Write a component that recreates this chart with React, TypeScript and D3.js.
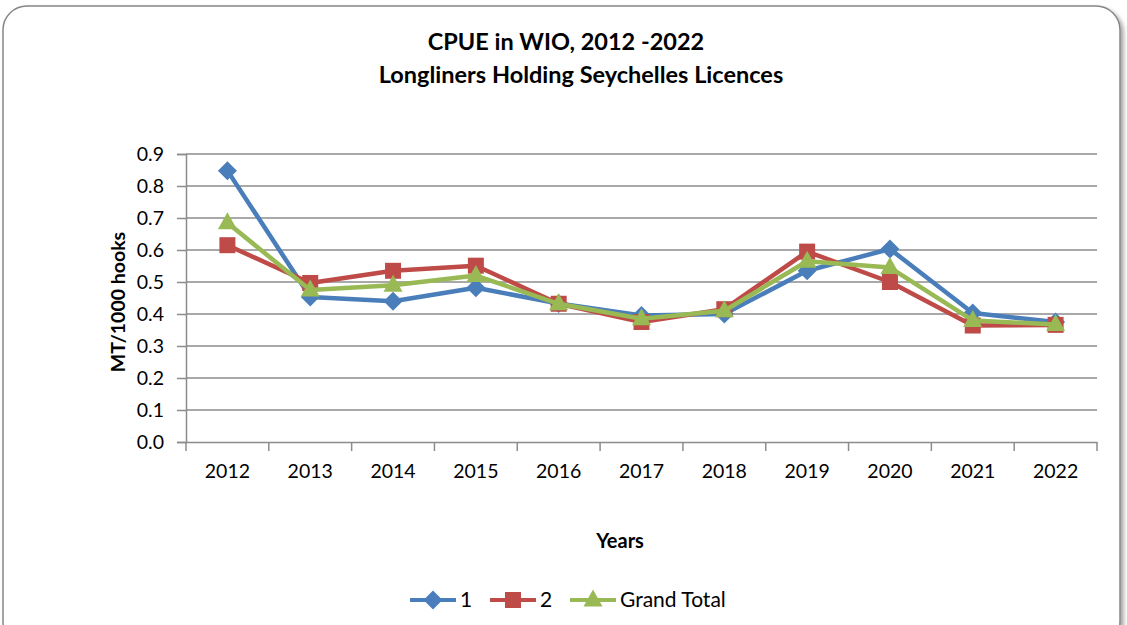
import { useEffect, useRef } from 'react';
import * as d3 from 'd3';

const years = ['2012', '2013', '2014', '2015', '2016', '2017', '2018', '2019', '2020', '2021', '2022'];
const series1 = [0.848, 0.453, 0.44, 0.482, 0.433, 0.395, 0.4, 0.535, 0.603, 0.403, 0.375];
const series2 = [0.615, 0.497, 0.535, 0.551, 0.432, 0.375, 0.415, 0.595, 0.5, 0.364, 0.366];
const grandTotal = [0.685, 0.475, 0.49, 0.52, 0.432, 0.385, 0.41, 0.565, 0.545, 0.38, 0.367];
const yTicks = [0, 0.1, 0.2, 0.3, 0.4, 0.5, 0.6, 0.7, 0.8, 0.9];

const seriesList = [
    { name: '1', values: series1, color: '#4A7EBB', marker: 'diamond' },
    { name: '2', values: series2, color: '#BE4B48', marker: 'square' },
    { name: 'Grand Total', values: grandTotal, color: '#98B954', marker: 'triangle' },
];

const FONT = 'Lato, "Open Sans", sans-serif';

const App = () => {
    const svgRef = useRef<SVGSVGElement>(null);

    useEffect(() => {
        const W = 1127, H = 625;
        const svg = d3.select(svgRef.current);
        svg.selectAll('*').remove();
        svg.attr('width', W).attr('height', H);

        // sombra + marco redondeado
        const defs = svg.append('defs');
        const f = defs.append('filter').attr('id', 'shadow').attr('x', '-5%').attr('y', '-5%').attr('width', '110%').attr('height', '110%');
        f.append('feDropShadow').attr('dx', 3).attr('dy', 3).attr('stdDeviation', 2).attr('flood-color', '#000').attr('flood-opacity', 0.35);

        svg.append('rect')
            .attr('x', 3).attr('y', 6).attr('width', 1117).attr('height', 640)
            .attr('rx', 24).attr('ry', 24)
            .attr('fill', '#fff').attr('stroke', '#868686').attr('stroke-width', 1.5)
            .attr('filter', 'url(#shadow)');

        const left = 186, right = 1097, top = 154, bottom = 442;

        const x = d3.scaleBand().domain(years).range([left, right]);
        const y = d3.scaleLinear().domain([0, 0.9]).range([bottom, top]);
        const cx = (d: string) => (x(d) as number) + x.bandwidth() / 2;

        // líneas de cuadrícula
        svg.append('g').selectAll('line').data(yTicks.slice(1)).enter().append('line')
            .attr('x1', left).attr('x2', right)
            .attr('y1', d => y(d)).attr('y2', d => y(d))
            .attr('stroke', '#8c8c8c').attr('stroke-width', 1.5);

        // eje y
        const yAxis = svg.append('g').attr('transform', `translate(${left},0)`)
            .call(d3.axisLeft(y).tickValues(yTicks).tickFormat(d3.format('.1f')).tickSize(9).tickPadding(12));
        yAxis.select('.domain').attr('stroke', '#8c8c8c').attr('stroke-width', 1.5);
        yAxis.selectAll('.tick line').attr('stroke', '#8c8c8c').attr('stroke-width', 1.5).attr('x2', -9);
        yAxis.selectAll('text').attr('x', -22).style('font-family', FONT).style('font-size', '19.5px').attr('fill', '#000');

        // eje x
        const xAxis = svg.append('g').attr('transform', `translate(0,${bottom})`)
            .call(d3.axisBottom(x).tickSize(0).tickPadding(22));
        xAxis.select('.domain').attr('stroke', '#8c8c8c').attr('stroke-width', 1.5);
        xAxis.selectAll('text').style('font-family', FONT).style('font-size', '19.5px').attr('fill', '#000');
        const bounds = years.map(d => x(d) as number).concat([right]);
        xAxis.selectAll('.sep').data(bounds).enter().append('line')
            .attr('x1', d => d).attr('x2', d => d).attr('y1', 0).attr('y2', 9)
            .attr('stroke', '#8c8c8c').attr('stroke-width', 1.5);

        // marcadores
        const drawMarker = (g: any, type: string, color: string, px: number, py: number) => {
            if (type === 'diamond') {
                g.append('path').attr('d', `M${px},${py - 9.5}L${px + 9.5},${py}L${px},${py + 9.5}L${px - 9.5},${py}Z`).attr('fill', color);
            } else if (type === 'square') {
                g.append('rect').attr('x', px - 8).attr('y', py - 8).attr('width', 16).attr('height', 16).attr('fill', color);
            } else {
                g.append('path').attr('d', `M${px},${py - 10.5}L${px + 9.5},${py + 6.5}L${px - 9.5},${py + 6.5}Z`).attr('fill', color);
            }
        };

        const line = d3.line<number>().x((_, i) => cx(years[i])).y(d => y(d));
        seriesList.forEach(s => {
            const g = svg.append('g');
            g.append('path').attr('d', line(s.values)).attr('fill', 'none')
                .attr('stroke', s.color).attr('stroke-width', 4.5).attr('stroke-linejoin', 'round');
            s.values.forEach((v, i) => drawMarker(g, s.marker, s.color, cx(years[i]), y(v)));
        });

        // títulos
        svg.append('text').attr('x', 566).attr('y', 50).attr('text-anchor', 'middle')
            .style('font-family', FONT).style('font-size', '23.5px').style('font-weight', 'bold')
            .text('CPUE in WIO, 2012 -2022');
        svg.append('text').attr('x', 581).attr('y', 83).attr('text-anchor', 'middle')
            .style('font-family', FONT).style('font-size', '23.5px').style('font-weight', 'bold')
            .text('Longliners Holding Seychelles Licences');

        svg.append('text').attr('transform', `translate(125,${(top + bottom) / 2 + 4}) rotate(-90)`)
            .attr('text-anchor', 'middle')
            .style('font-family', FONT).style('font-size', '19.5px').style('font-weight', 'bold')
            .text('MT/1000 hooks');

        svg.append('text').attr('x', 620).attr('y', 548).attr('text-anchor', 'middle')
            .style('font-family', FONT).style('font-size', '20px').style('font-weight', 'bold')
            .text('Years');

        // leyenda
        const legendX = [410, 490, 570];
        seriesList.forEach((s, i) => {
            const g = svg.append('g');
            const lx = legendX[i];
            g.append('line').attr('x1', lx).attr('x2', lx + 46).attr('y1', 600).attr('y2', 600)
                .attr('stroke', s.color).attr('stroke-width', 4);
            drawMarker(g, s.marker, s.color, lx + 23, 600);
            g.append('text').attr('x', lx + 50).attr('y', 607)
                .style('font-family', FONT).style('font-size', '21px')
                .text(s.name);
        });
    }, []);

    return <svg ref={svgRef} style={{ position: 'absolute', left: 0, top: 0 }}></svg>;
};

export default App;
